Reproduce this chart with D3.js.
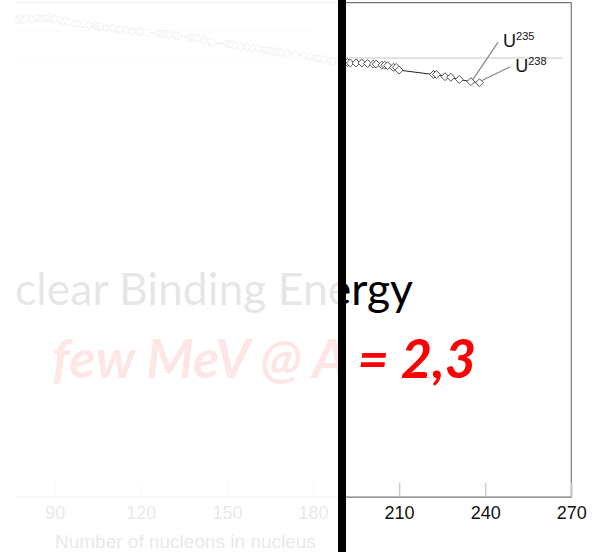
<!DOCTYPE html>
<html>
<head>
<meta charset="utf-8">
<script src="https://cdn.jsdelivr.net/npm/d3@7"></script>
<style>
  body { margin: 0; background: #fff; }
  svg { display: block; }
</style>
</head>
<body>
<div id="chart"></div>
<script>
// mass number A and binding energy per nucleon (MeV)
const massNumbers = [77, 78, 79, 80, 82, 84, 85, 86, 87, 88, 89, 90, 92, 93, 94, 95, 97, 98, 100, 102,
  104, 105, 106, 108, 110, 112, 113, 115, 117, 119, 120, 122, 126, 127, 128, 129, 130, 132, 133, 137,
  138, 139, 140, 142, 144, 145, 150, 151, 152, 153, 155, 157, 159, 161, 163, 164, 165, 166, 167, 168,
  169, 171, 174, 177, 179, 181, 182, 183, 184, 186, 187, 189, 191, 192, 193, 195, 197, 199, 201, 202,
  204, 205, 206, 208, 209, 210, 222, 223, 226, 228, 231, 235, 238];
const bindingEnergy = [8.69, 8.70, 8.69, 8.71, 8.70, 8.72, 8.71, 8.71, 8.72, 8.73, 8.71, 8.70, 8.68, 8.66, 8.67, 8.64, 8.62, 8.62, 8.61, 8.59,
  8.58, 8.57, 8.56, 8.54, 8.53, 8.51, 8.51, 8.49, 8.48, 8.47, 8.47, 8.46, 8.44, 8.43, 8.43, 8.42, 8.41, 8.40, 8.39, 8.37,
  8.36, 8.35, 8.34, 8.31, 8.29, 8.27, 8.25, 8.24, 8.23, 8.22, 8.20, 8.19, 8.17, 8.16, 8.14, 8.13, 8.12, 8.11, 8.11, 8.10,
  8.09, 8.08, 8.06, 8.03, 8.01, 7.99, 7.98, 7.97, 7.96, 7.94, 7.93, 7.92, 7.91, 7.91, 7.90, 7.90, 7.90, 7.89, 7.88, 7.88,
  7.86, 7.86, 7.85, 7.82, 7.82, 7.77, 7.69, 7.69, 7.65, 7.64, 7.60, 7.56, 7.54];

const xTicks = [90, 120, 150, 180, 210, 240, 270];
// horizontal gridlines: [energy, A where the line stops]
const gridLines = [[8.5, 180], [8.0, 267]];
// isotope callouts: mass, label, leader end (A, MeV)
const callouts = [
  { a: 235, label: "235", endA: 244.5, endE: 8.28 },
  { a: 238, label: "238", endA: 248.7, endE: 7.83 }
];

const width = 593, height = 552;

const svg = d3.select("#chart")
    .append("svg")
    .attr("width", width)
    .attr("height", height);

const x = d3.scaleLinear().domain([76.5, 270]).range([16, 571.3]);
const y = d3.scaleLinear().domain([0, 9]).range([496.7, 2.6]);

const points = massNumbers.map((a, i) => ({ a, e: bindingEnergy[i] }));

// gridlines
svg.selectAll(".grid")
    .data(gridLines)
    .enter().append("line")
    .attr("x1", x.range()[0])
    .attr("x2", d => x(d[1]))
    .attr("y1", d => y(d[0]) + 0.5)
    .attr("y2", d => y(d[0]) + 0.5)
    .attr("stroke", "#c8c8c8")
    .attr("stroke-width", 1);

// frame: top and right edges
svg.append("line")
    .attr("x1", x.range()[0]).attr("x2", x(270))
    .attr("y1", y(9)).attr("y2", y(9))
    .attr("stroke", "#777").attr("stroke-width", 1.2);
svg.append("line")
    .attr("x1", x(270)).attr("x2", x(270))
    .attr("y1", y(9)).attr("y2", y(0))
    .attr("stroke", "#777").attr("stroke-width", 1.2);

// x axis with inner ticks
const xAxis = svg.append("g")
    .attr("transform", `translate(0,${y(0)})`)
    .call(d3.axisBottom(x).tickValues(xTicks).tickSizeInner(-14).tickSizeOuter(0).tickPadding(10));
xAxis.select(".domain").attr("stroke", "#777").attr("stroke-width", 1.2);
xAxis.selectAll(".tick line").attr("stroke", "#ccc").attr("stroke-width", 1.5);
xAxis.selectAll(".tick text")
    .attr("fill", "#111")
    .style("font-family", "'Liberation Sans', Arial, sans-serif")
    .style("font-size", "18px");

svg.append("text")
    .attr("x", 55)
    .attr("y", 548)
    .attr("fill", "#111")
    .style("font-family", "'Liberation Sans', Arial, sans-serif")
    .style("font-size", "19px")
    .text("Number of nucleons in nucleus");

// curve + markers
const line = d3.line().x(d => x(d.a)).y(d => y(d.e));
svg.append("path")
    .datum(points)
    .attr("d", line)
    .attr("fill", "none")
    .attr("stroke", "#222")
    .attr("stroke-width", 1);

const diamond = d3.symbol().type(d3.symbolDiamond2 || d3.symbolSquare).size(40);
svg.selectAll(".pt")
    .data(points)
    .enter().append("path")
    .attr("d", diamond)
    .attr("transform", d => `translate(${x(d.a)},${y(d.e)})`)
    .attr("fill", "#fff")
    .attr("stroke", "#555")
    .attr("stroke-width", 1);

// uranium callouts
const byMass = new Map(points.map(p => [p.a, p]));
callouts.forEach(c => {
    const p = byMass.get(c.a);
    svg.append("line")
        .attr("x1", x(p.a) + 2).attr("y1", y(p.e) - 2)
        .attr("x2", x(c.endA)).attr("y2", y(c.endE))
        .attr("stroke", "#888").attr("stroke-width", 1.2);
    const t = svg.append("text")
        .attr("x", x(c.endA) + 5)
        .attr("y", y(c.endE) + 5)
        .attr("fill", "#111")
        .style("font-family", "'Liberation Sans', Arial, sans-serif")
        .style("font-size", "18px");
    t.append("tspan").text("U");
    t.append("tspan").attr("dy", -7).style("font-size", "11px").text(c.label);
});

// big captions (title is cropped on the left in the original, only this part shows)
svg.append("text")
    .attr("x", 413)
    .attr("y", 305)
    .attr("text-anchor", "end")
    .attr("fill", "#000")
    .style("font-family", "Lato, 'Open Sans', sans-serif")
    .style("font-size", "44.5px")
    .text("clear Binding Energy");

svg.append("text")
    .attr("x", 52)
    .attr("y", 378)
    .attr("fill", "#ff0000")
    .style("font-family", "Lato, 'Open Sans', sans-serif")
    .style("font-size", "54px")
    .style("font-weight", "bold")
    .style("font-style", "italic")
    .text("few MeV @ A = 2,3");

// faded left half and the divider bar
svg.append("rect")
    .attr("x", 0).attr("y", 0)
    .attr("width", 338).attr("height", height)
    .attr("fill", "#fff")
    .attr("opacity", 0.9);
svg.append("rect")
    .attr("x", 338).attr("y", 0)
    .attr("width", 8).attr("height", height)
    .attr("fill", "#000");
</script>
</body>
</html>
